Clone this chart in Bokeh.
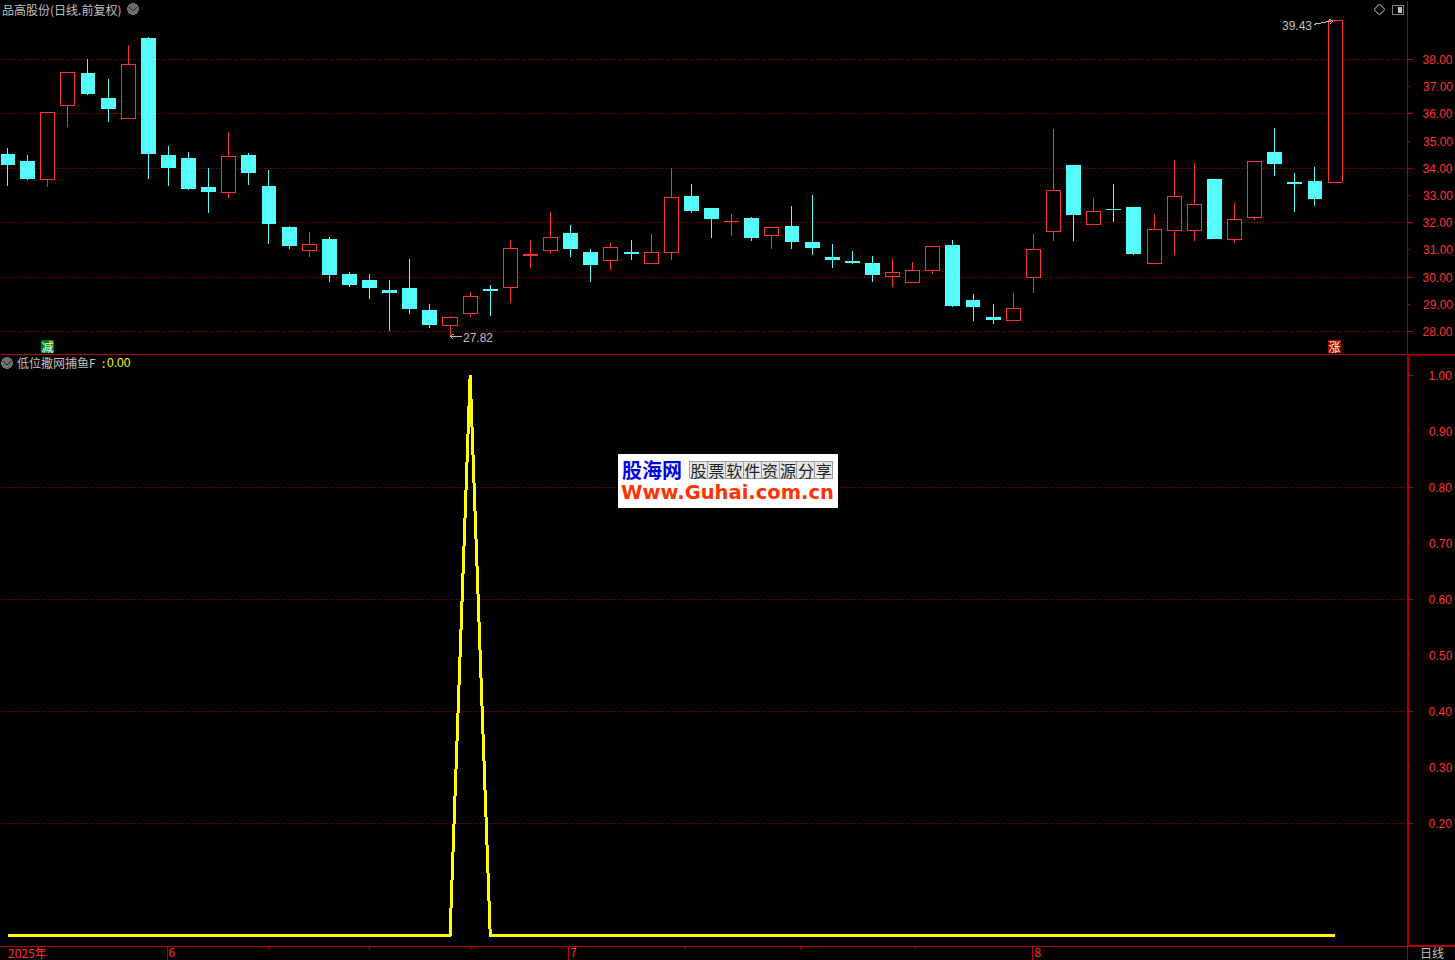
from bokeh.embed import file_html
from bokeh.resources import INLINE
from bokeh.plotting import figure
from bokeh.layouts import column
from bokeh.models import Range1d, LinearAxis, FixedTicker
from bokeh.core.properties import value

# ---- data ----
opens  = [34.53,34.27,33.58,36.30,37.50,36.58,35.82,38.79,34.49,34.38,33.31,33.10,34.49,33.35,31.84,30.97,31.40,30.11,
          29.89,29.53,29.60,28.79,28.21,28.65,29.56,29.61,30.80,30.97,31.62,30.92,30.60,30.92,30.49,30.90,32.98,32.54,
          32.03,32.17,31.52,31.88,31.29,30.74,30.59,30.52,30.01,29.79,30.24,31.18,29.16,28.53,28.40,29.98,31.67,34.12,
          31.93,32.50,32.58,30.50,31.72,31.72,33.61,31.39,32.20,34.60,33.50,33.53,33.49]
highs  = [34.75,34.49,36.07,37.54,38.02,37.28,38.53,38.83,34.82,34.60,34.01,35.33,34.56,33.94,31.88,31.66,31.47,30.19,
          30.11,29.89,30.67,29.01,28.57,29.45,29.71,31.36,31.36,32.39,31.92,31.03,31.25,31.36,31.58,34.01,33.42,32.54,
          32.32,32.21,31.83,32.61,33.02,31.22,30.96,30.78,30.67,30.56,31.14,31.36,29.38,29.01,29.42,31.58,35.44,34.12,
          32.91,33.42,32.58,32.32,34.31,34.19,33.61,32.72,34.27,35.48,33.83,34.05,39.43]
lows   = [33.35,33.57,33.31,35.53,36.69,35.70,35.81,33.61,33.35,33.20,32.37,32.91,33.39,31.22,31.03,30.74,29.82,29.64,
          29.19,28.02,28.64,28.13,27.82,28.53,28.57,29.05,30.33,30.85,30.74,29.82,30.26,30.63,30.48,30.63,32.36,31.44,
          31.51,31.33,31.03,31.03,30.81,30.33,30.48,29.82,29.64,29.78,30.11,28.90,28.39,28.28,28.39,29.42,31.33,31.33,
          31.92,32.03,30.81,30.48,30.81,31.33,31.40,31.25,32.10,33.72,32.39,32.61,33.48]
closes = [34.12,33.61,36.06,37.53,36.73,36.18,37.82,34.53,34.01,33.24,33.13,34.44,33.83,31.95,31.14,31.21,30.08,29.71,
          29.60,29.42,28.83,28.24,28.52,29.29,29.49,31.06,30.83,31.46,31.03,30.44,31.10,30.85,30.91,32.93,32.43,32.14,
          32.06,31.44,31.83,31.29,31.07,30.63,30.52,30.08,30.18,30.25,31.13,28.94,28.90,28.42,28.85,31.02,33.19,32.28,
          32.42,32.47,30.85,31.76,32.97,32.68,31.40,32.12,34.26,34.16,33.42,32.87,39.43]
signal = [0]*23 + [1] + [0]*43

price_ticks_major = [38, 36, 34, 32, 30, 28]
price_ticks_minor = [37, 35, 33, 31, 29]
signal_ticks_major = [1.0, 0.8, 0.6, 0.4, 0.2]
signal_ticks_minor = [0.9, 0.7, 0.5, 0.3]
signal_grid = [0.8, 0.6, 0.4, 0.2]
date_ticks = [7.93, 27.9, 50.98]
date_labels = ["6", "7", "8"]
date_minor = [13, 18, 23, 33.7, 39.4, 45.15]
year_label = "2025年"
high_label, low_label = "39.43", "27.82"
title_text = "品高股份(日线.前复权)"
indicator_name = "低位撒网捕鱼F"
indicator_value = "0.00"

# ---- style ----
BG = "#000000"; RED = "#FF3232"; CYAN = "#54FCFC"; AXIS = "#B40000"; GRID = "#C00000"
GRAY = "#C0C0C0"; YEL = "#FFFF00"
CJK = value("Noto Sans CJK SC"); NUM = "Liberation Sans"

# Bokeh's svg canvas sits half a pixel off; the ranges below take that out
W = 1455
X_PER = 20.115
X_AT0 = 7.5
X0 = (0.5 - X_AT0) / X_PER
X1 = (W + 0.5 - X_AT0) / X_PER
AXIS_X = (1407.5 - X_AT0) / X_PER
P_SCALE = 27.2
P_38 = 59.5            # pixel row of 38.00
S_SCALE = 560.8
S_0 = 935.8            # pixel row of 0.00


def price_at(px):
    return 38 + (P_38 - px) / P_SCALE


def sig_at(px):
    return (S_0 - px) / S_SCALE


def make_fig(h, y0, y1, px_top, px_bot):
    p = figure(width=W, height=h, frame_width=W, frame_height=h,
               x_range=Range1d(X0, X1), y_range=Range1d(y0, y1),
               y_axis_location=None, x_axis_location=None,
               output_backend="svg", toolbar_location=None,
               background_fill_color=BG, border_fill_color=BG,
               min_border_left=0, min_border_top=0, min_border_right=0, min_border_bottom=0)
    p.outline_line_color = None
    p.grid.visible = False
    p.extra_x_ranges["px"] = Range1d(0.5, W + 0.5)
    p.extra_y_ranges["px"] = Range1d(px_bot + 0.5, px_top + 0.5)
    return p


def add_y_axis(p, major, minor, standoff, width, bounds=None):
    ax = LinearAxis(ticker=FixedTicker(ticks=major, minor_ticks=minor), fixed_location=AXIS_X)
    ax.axis_line_color = AXIS
    ax.axis_line_width = width
    ax.major_tick_line_color = AXIS
    ax.minor_tick_line_color = AXIS
    ax.major_tick_in = 0
    ax.minor_tick_in = 0
    ax.major_tick_out = 5
    ax.minor_tick_out = 2
    ax.major_label_standoff = standoff
    ax.major_label_text_color = RED
    ax.major_label_text_font = NUM
    ax.major_label_text_font_size = "12px"
    ax.major_label_overrides = {t: f"{t:.2f}" for t in major}
    if bounds:
        ax.bounds = bounds
    p.add_layout(ax, "right")


def txt(p, x, y, s, color=GRAY, size="12px", font=CJK, align="left", style="normal", y_px=True):
    kw = {"y_range_name": "px"} if y_px else {}
    p.text([x], [y], text=[s], text_color=color, text_font_size=size, text_font=font,
           text_align=align, text_baseline="middle", text_font_style=style,
           x_range_name="px", **kw)


def box(p, l, r, t, b, color):
    p.quad(left=[l], right=[r], top=[t], bottom=[b], fill_color=color, line_color=None,
           x_range_name="px", y_range_name="px")


def chevron(p, cx, cy):
    p.scatter([cx], [cy], size=12, marker="circle", fill_color="#6E6E6E", line_color=None,
              x_range_name="px", y_range_name="px")
    p.line([cx - 3.5, cx, cx + 3.5], [cy - 1.5, cy + 2, cy - 1.5], line_color="#262626", line_width=1.3,
           x_range_name="px", y_range_name="px")


def grid(p, ticks):
    n = len(ticks)
    p.segment([0] * n, ticks, [1407] * n, ticks, line_color=GRID, line_dash="1 2", line_width=1,
              x_range_name="px")


# ---- price pane ----
p1 = make_fig(355, price_at(355.5), price_at(0.5), 0, 355)
add_y_axis(p1, price_ticks_major, price_ticks_minor, 10, 1)
grid(p1, price_ticks_major)
for t in price_ticks_minor:
    txt(p1, 1423, t, f"{t:.2f}", color=RED, font=value(NUM), y_px=False)

idx = list(range(len(opens)))
up = [i for i in idx if closes[i] >= opens[i]]
dn = [i for i in idx if closes[i] < opens[i]]
p1.segment(up, [highs[i] for i in up], up, [lows[i] for i in up], line_color=RED, line_width=1)
p1.segment(dn, [highs[i] for i in dn], dn, [lows[i] for i in dn], line_color=CYAN, line_width=1)
p1.vbar(x=up, width=0.7, top=[closes[i] for i in up], bottom=[opens[i] for i in up],
        fill_color=BG, line_color=RED, line_width=1)
p1.vbar(x=dn, width=0.74, top=[opens[i] for i in dn], bottom=[closes[i] for i in dn],
        fill_color=CYAN, line_color=None)

# separator and header
box(p1, 0, W, 354, 355, AXIS)
txt(p1, 2, 9, title_text)
chevron(p1, 133, 9)
p1.line([1374, 1379.5, 1385, 1379.5, 1374], [9.5, 4, 9.5, 15, 9.5], line_color="#707070",
        x_range_name="px", y_range_name="px")
p1.quad(left=[1392], right=[1403.5], top=[5], bottom=[14.5], fill_color=None, line_color="#808080",
        x_range_name="px", y_range_name="px")
box(p1, 1398, 1402, 6.5, 13, "#C0C0C0")
# extreme labels
txt(p1, 1282, 25, high_label, font=value(NUM))
p1.line([1314, 1333], [24.3, 20.7], line_color=GRAY, x_range_name="px", y_range_name="px")
p1.line([1329, 1333, 1330], [19.5, 20.7, 24], line_color=GRAY, x_range_name="px", y_range_name="px")
txt(p1, 463, 337.5, low_label, font=value(NUM))
p1.line([450.5, 462], [336.5, 336.5], line_color=GRAY, x_range_name="px", y_range_name="px")
p1.line([453.5, 450.5, 453.5], [334, 336.5, 339.5], line_color=GRAY, x_range_name="px", y_range_name="px")
# buy / sell marks
box(p1, 41, 54, 340, 353, "#008000")
txt(p1, 47.5, 346.5, "减", color="#FFFFFF", align="center")
box(p1, 1328, 1341, 340, 353, "#A00000")
txt(p1, 1334.5, 346.5, "涨", color="#FFFFFF", align="center")

# ---- indicator pane ----
p2 = make_fig(605, sig_at(960.5), sig_at(355.5), 355, 960)
add_y_axis(p2, signal_ticks_major, signal_ticks_minor, 16, 2, bounds=(sig_at(946.5), sig_at(355.5)))
grid(p2, signal_grid)
for t in signal_ticks_minor:
    txt(p2, 1429, t, f"{t:.2f}", color=RED, font=value(NUM), y_px=False)

xax = LinearAxis(ticker=FixedTicker(ticks=date_ticks, minor_ticks=date_minor), fixed_location=sig_at(946.5))
xax.major_label_overrides = {t: "" for t in date_ticks}
xax.axis_line_color = AXIS
xax.major_tick_line_color = AXIS
xax.major_tick_in = 0
xax.major_tick_out = 14
xax.minor_tick_in = 0
xax.minor_tick_out = 3
xax.minor_tick_line_color = AXIS
xax.major_label_text_font_size = "0px"
p2.add_layout(xax, "below")

p2.line(idx, signal, line_color=YEL, line_width=3, line_join="bevel")

# header of the pane
box(p2, 1408, W, 355, 356, AXIS)
chevron(p2, 7, 363)
txt(p2, 17, 362.5, indicator_name)
txt(p2, 102, 362.5, ":", color=YEL)
txt(p2, 107, 362.5, indicator_value, color=YEL, font=value(NUM))

# logo
box(p2, 618, 838, 454, 508, "#FFFFFF")
txt(p2, 622, 469.5, "股海网", color="#0000E6", size="20px", style="bold")
for k, ch in enumerate("股票软件资源分享"):
    xl = 689.5 + k * 17.9
    p2.quad(left=[xl], right=[xl + 17.9], top=[461], bottom=[478], fill_color="#E6E6E6", line_color="#A0A0A0",
            x_range_name="px", y_range_name="px")
    txt(p2, xl + 9, 469.5, ch, color="#222222", size="16px", align="center")
txt(p2, 621, 492.5, "Www.Guhai.com.cn", color="#FF3300", size="19.5px", font=value("DejaVu Sans"), style="bold")

# frame strips and date labels
box(p2, 1408, W, 945, 947, AXIS)
box(p2, 1407, 1408, 946, 960, AXIS)
txt(p2, 8, 952.5, year_label, color=RED)
for i, s in zip(date_ticks, date_labels):
    txt(p2, X_AT0 + i * X_PER + 1.5, 952.5, s, color=RED)
txt(p2, 1420, 952.5, "日线", color=GRAY)

page = column(p1, p2, spacing=0)
html = file_html(page, INLINE)
head = "<style>html,body{margin:0;padding:0;background:#000;overflow:hidden}</style>"
crisp = """<script>
function crispWalk(root){root.querySelectorAll('*').forEach(function(e){
  if(e.shadowRoot) crispWalk(e.shadowRoot);
  if(e.tagName.toLowerCase()==='svg') e.style.shapeRendering='crispEdges';
});}
setInterval(function(){crispWalk(document);},30);
</script>"""
html = html.replace("<head>", "<head>" + head, 1).replace("</body>", crisp + "</body>", 1)
open("out.html", "w").write(html)
